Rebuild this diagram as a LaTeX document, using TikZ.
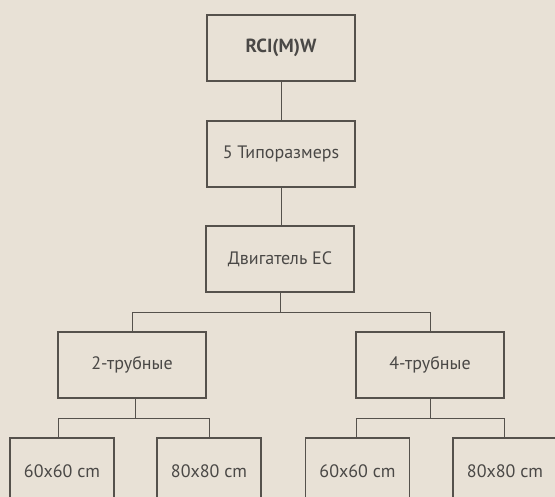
\documentclass[tikz,border=0pt]{standalone}
\usepackage{fontspec}
\setmainfont{PT Sans}
\begin{document}
\definecolor{paper}{HTML}{E8E1D6}
\definecolor{ink}{HTML}{55514C}
\definecolor{txt}{HTML}{4A4846}
\begin{tikzpicture}[x=1pt,y=-1pt,
  box/.style={draw=ink,line width=1.3pt,minimum width=148pt,minimum height=66pt,
    inner sep=0pt,text=txt,font=\fontsize{18}{21}\selectfont},
  leaf/.style={box,minimum width=104pt},
  link/.style={draw=ink,line width=1pt}]
  \fill[paper] (0,0) rectangle (555,497);
  \useasboundingbox (0,0) rectangle (555,497);

  \node[box,font=\fontsize{19}{22}\selectfont\bfseries] (top) at (281,48) {RCI(M)W};
  \node[box] (sizes) at (281,154) {5 Типоразмерs};
  \node[box] (motor) at (280,259) {Двигатель EC};
  \node[box] (two)  at (132,365) {2-трубные};
  \node[box] (four) at (430,365) {4-трубные};
  \node[leaf] (twoA)  at (62,471)    {60x60 cm};
  \node[leaf] (twoB)  at (209,471)   {80x80 cm};
  \node[leaf] (fourA) at (357.5,471) {60x60 cm};
  \node[leaf] (fourB) at (505,471)   {80x80 cm};

  \draw[link] (top.south) -- (sizes.north);
  \draw[link] (sizes.south) -- (sizes.south |- motor.north);
  \draw[link] (motor.south) -- ++(0,20) coordinate (split);
  \draw[link] (split) -| (two.north);
  \draw[link] (split) -| (four.north);

  \draw[link] ([xshift=3pt]two.south) -- ++(0,20) coordinate (splitTwo);
  \draw[link] (splitTwo) -| ([xshift=-4pt]twoA.north);
  \draw[link] (splitTwo) -| (twoB.north);

  \draw[link] (four.south) -- ++(0,20) coordinate (splitFour);
  \draw[link] (splitFour) -| ([xshift=-1.5pt]fourA.north);
  \draw[link] (splitFour) -| ([xshift=-1pt]fourB.north);
\end{tikzpicture}
\end{document}
